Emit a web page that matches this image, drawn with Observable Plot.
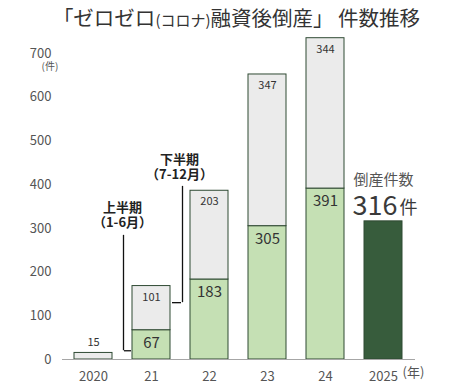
<!DOCTYPE html>
<html><head><meta charset="utf-8">
<script src="https://cdn.jsdelivr.net/npm/d3@7"></script>
<script src="https://cdn.jsdelivr.net/npm/@observablehq/plot@0.6"></script>
<style>
body{margin:0;background:#fff;font-family:"Noto Sans CJK JP",sans-serif;}
#title{height:34px;line-height:34px;text-align:center;font-size:20.5px;color:#333;white-space:nowrap;font-weight:400;padding-left:4px;}
#title .small{font-size:15px;}
svg{display:block;}
</style></head><body>
<div id="chart"><div id="title">「ゼロゼロ<span class="small">(コロナ)</span>融資後倒産」 件数推移</div></div>
<script>
const years = ["2020", "21", "22", "23", "24", "2025"];
const firstHalf = [0, 67, 183, 305, 391, null];
const secondHalf = [15, 101, 203, 347, 344, null];
const year2025 = "2025";
const total2025 = 316;
const yTicks = [0, 100, 200, 300, 400, 500, 600, 700];
const yUnit = "(件)";
const xUnit = "(年)";
const noteFirst = "上半期\n（1-6月）";
const noteSecond = "下半期\n（7-12月）";
const note2025Title = "倒産件数";
const note2025Suffix = "件";

const segments = [];
years.forEach((yr, i) => {
  const f = firstHalf[i], s = secondHalf[i];
  if (f) segments.push({year: yr, y1: 0, y2: f, v: f, kind: "first"});
  if (s) segments.push({year: yr, y1: f || 0, y2: (f || 0) + s, v: s, kind: "second"});
});
segments.push({year: year2025, y1: 0, y2: total2025, v: total2025, kind: "y2025"});

const greenSeg = segments.filter(d => d.kind === "first");
const graySeg = segments.filter(d => d.kind === "second");
const grayInside = graySeg.filter(d => d.v >= 40);
const grayAbove = graySeg.filter(d => d.v < 40);

const font = "Noto Sans CJK JP";
const chart = Plot.plot({
  width: 469,
  height: 354,
  marginTop: 19,
  marginBottom: 29,
  marginLeft: 62,
  marginRight: 54,
  style: {fontFamily: font, background: "#fff"},
  x: {domain: years, paddingInner: 0.337, paddingOuter: 0.17, label: null},
  y: {domain: [0, 700], label: null},
  color: {domain: ["first", "second", "y2025"], range: ["#c5e0b4", "#ebebeb", "#375c3c"]},
  marks: [
    Plot.axisY({ticks: yTicks, tickSize: 0, tickPadding: 11, fontSize: 13, color: "#555", label: null}),
    Plot.axisX({tickSize: 0, tickPadding: 12, fontSize: 13, color: "#555", label: null}),
    Plot.rectY(segments, {x: "year", y1: "y1", y2: "y2", fill: "kind", stroke: "#2f4a33", strokeWidth: 1}),
    Plot.ruleY([0], {stroke: "#a6a6a6", strokeWidth: 1.2}),
    Plot.text(greenSeg, {x: "year", y: "y2", text: d => String(d.v), dy: 13, fontSize: 15, fill: "#333", lineAnchor: "middle"}),
    Plot.text(grayInside, {x: "year", y: "y2", text: d => String(d.v), dy: 11, fontSize: 11, fill: "#333", lineAnchor: "middle"}),
    Plot.text(grayAbove, {x: "year", y: "y2", text: d => String(d.v), dy: -10, fontSize: 11, fill: "#333", lineAnchor: "middle"}),
    // annotation brackets
    Plot.ruleX(["21"], {y1: 20, y2: 284, dx: -28, stroke: "#111", strokeWidth: 1.3}),
    Plot.tickY([{x: "21", y: 20}], {x: "x", y: "y", dx: -8, insetRight: 31, stroke: "#111", strokeWidth: 1.3}),
    Plot.ruleX(["21"], {y1: 130, y2: 396, dx: 31, stroke: "#111", strokeWidth: 1.3}),
    Plot.tickY([{x: "21", y: 130}], {x: "x", y: "y", dx: 11, insetLeft: 29, stroke: "#111", strokeWidth: 1.3}),
    Plot.text([{x: "21", y: 331}], {x: "x", y: "y", text: () => noteFirst, dx: -29, fontSize: 13, fontWeight: 700, fill: "#222", lineHeight: 1.18, lineAnchor: "middle"}),
    Plot.text([{x: "21", y: 441}], {x: "x", y: "y", text: () => noteSecond, dx: 28, fontSize: 13, fontWeight: 700, fill: "#222", lineHeight: 1.18, lineAnchor: "middle"}),
    // 2025 annotation
    Plot.text([year2025], {x: d => d, y: () => 410, text: () => note2025Title, fontSize: 15, fill: "#555", lineAnchor: "middle"}),
    Plot.text([year2025], {x: d => d, y: () => 350, text: () => String(total2025), dx: 14, textAnchor: "end", fontSize: 27, fill: "#3a3a3a", lineAnchor: "middle"}),
    Plot.text([year2025], {x: d => d, y: () => 347, text: () => note2025Suffix, dx: 16, textAnchor: "start", fontSize: 18, fill: "#3a3a3a", lineAnchor: "middle"}),
    // units
    Plot.text([yUnit], {frameAnchor: "left", y: () => 700, text: d => d, dx: -21, dy: 13, fontSize: 10, fill: "#555"}),
    Plot.text([xUnit], {x: () => year2025, frameAnchor: "bottom", text: d => d, dx: 30, dy: 17, fontSize: 13, fill: "#555"})
  ]
});
document.getElementById("chart").appendChild(chart);
</script>
</body></html>
